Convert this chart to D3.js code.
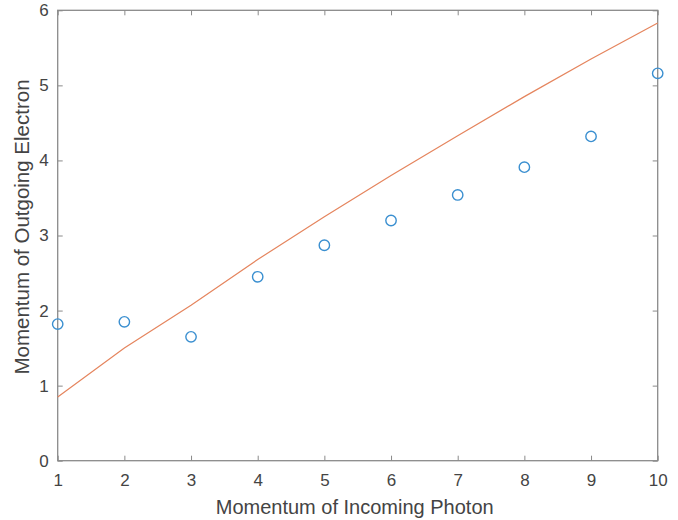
<!DOCTYPE html>
<html><head><meta charset="utf-8">
<script src="https://cdn.jsdelivr.net/npm/d3@7"></script>
<style>body{margin:0;background:#fff}svg{display:block}</style>
</head><body>
<svg id="c" width="678" height="520"></svg>
<script>
const xs = [1,2,3,4,5,6,7,8,9,10];
const measured = [1.82,1.85,1.65,2.45,2.87,3.20,3.54,3.91,4.32,5.16];
const theory = [0.85,1.50,2.07,2.68,3.25,3.80,4.33,4.85,5.35,5.83];
const xTicks = [1,2,3,4,5,6,7,8,9,10];
const yTicks = [0,1,2,3,4,5,6];
const xLabel = "Momentum of Incoming Photon";
const yLabel = "Momentum of Outgoing Electron";

const L=57.7,R=657.7,T=10.3,B=460.7;
const svg=d3.select("#c");
const x=d3.scaleLinear().domain([1,10]).range([L,R]);
const y=d3.scaleLinear().domain([0,6]).range([B,T]);
const axisCol="#8a8a8a", textCol="#444", font="Liberation Sans, Arial, sans-serif";

function styleAxis(g,showText){
  g.select(".domain").remove();
  g.selectAll(".tick line").attr("stroke",axisCol).attr("stroke-width",1);
  g.selectAll(".tick text").attr("fill",textCol).attr("font-family",font).attr("font-size",17);
  if(!showText) g.selectAll(".tick text").remove();
}
svg.append("g").attr("transform",`translate(0,${B})`)
  .call(d3.axisBottom(x).tickValues(xTicks).tickFormat(d3.format("d")).tickSizeInner(-5).tickSizeOuter(0).tickPadding(13))
  .call(g=>styleAxis(g,true));
svg.append("g").attr("transform",`translate(0,${T})`)
  .call(d3.axisTop(x).tickValues(xTicks).tickSizeInner(-5).tickSizeOuter(0))
  .call(g=>styleAxis(g,false));
svg.append("g").attr("transform",`translate(${L},0)`)
  .call(d3.axisLeft(y).tickValues(yTicks).tickFormat(d3.format("d")).tickSizeInner(-5).tickSizeOuter(0).tickPadding(9))
  .call(g=>styleAxis(g,true));
svg.append("g").attr("transform",`translate(${R},0)`)
  .call(d3.axisRight(y).tickValues(yTicks).tickSizeInner(-5).tickSizeOuter(0))
  .call(g=>styleAxis(g,false));
// box
svg.append("rect").attr("x",L).attr("y",T).attr("width",R-L).attr("height",B-T)
  .attr("fill","none").attr("stroke",axisCol).attr("stroke-width",1.3);

const line=d3.line().x((d,i)=>x(xs[i])).y(d=>y(d));
svg.append("path").datum(theory).attr("d",line).attr("fill","none")
  .attr("stroke","#E5855E").attr("stroke-width",1.2);

svg.append("g").selectAll("circle").data(measured).join("circle")
  .attr("cx",(d,i)=>x(xs[i])).attr("cy",d=>y(d)).attr("r",5.2)
  .attr("fill","none").attr("stroke","#3A8FD0").attr("stroke-width",1.4);

svg.append("text").attr("x",(L+R)/2-3).attr("y",514).attr("text-anchor","middle")
  .attr("font-family",font).attr("font-size",20).attr("fill",textCol).text(xLabel);
svg.append("text").attr("transform",`translate(29,227) rotate(-90)`).attr("text-anchor","middle")
  .attr("font-family",font).attr("font-size",20.5).attr("fill",textCol).text(yLabel);
</script>
</body></html>
